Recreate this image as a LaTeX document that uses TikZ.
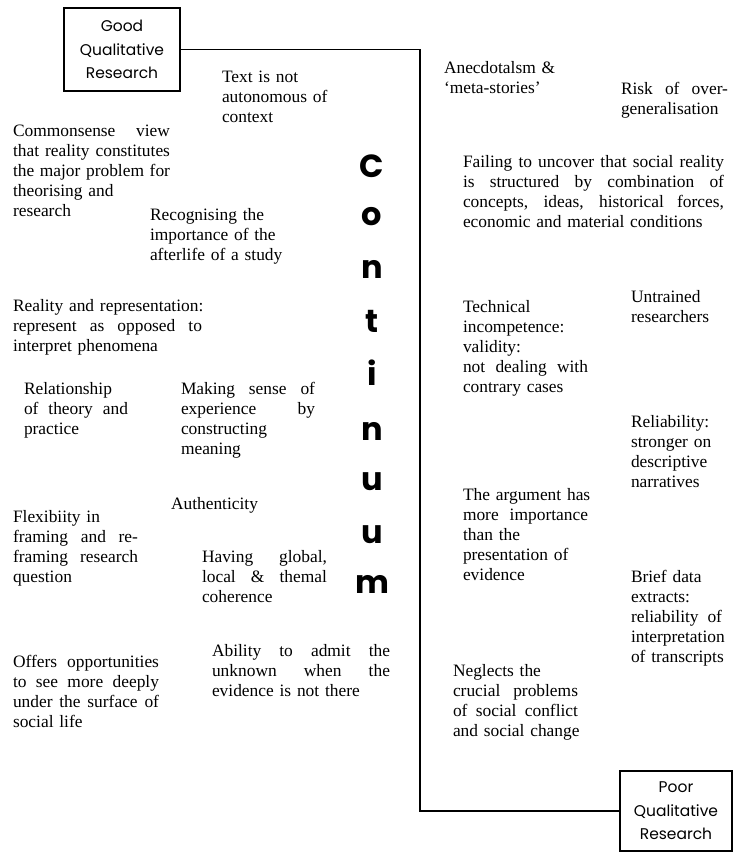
\documentclass[tikz,border=0pt]{standalone}
\usepackage{fontspec}
\setmainfont{Liberation Serif}
\newfontfamily\comicf{Poppins}
\newcommand\J[2]{\leavevmode\hbox to #1pt{\spaceskip=0.25em plus 1fil\relax #2}}
\begin{document}
\begin{tikzpicture}[x=1pt,y=-1pt,
  txt/.style={anchor=base west, inner sep=0pt, outer sep=0pt, text width=300pt, align=left,
              font=\fontsize{17.4}{20.2}\selectfont},
  qbox/.style={draw, line width=1.2pt, align=center, inner sep=0pt,
               font=\comicf\fontsize{15.5}{23.5}\selectfont},
  conn/.style={line width=1.2pt},
  cletter/.style={anchor=base, inner sep=0pt, font=\comicf\bfseries\fontsize{32}{32}\selectfont}]
\useasboundingbox (0,0) rectangle (734,852);

% boxes
\node[qbox, minimum width=116pt, minimum height=83pt] (good) at (122,49.5) {Good\\Qualitative\\Research};
\node[qbox, minimum width=112pt, minimum height=80pt] (poor) at (676,811) {Poor\\Qualitative\\Research};

% connector
\coordinate (bend) at (420,0);
\draw[conn] (good.east) -- (good.east -| bend) -- (poor.west -| bend) -- (poor.west);

% Continuum
\node[cletter] (c1) at (372,177) {C};
\node[cletter] (c2) at (372,225) {o};
\node[cletter] (c3) at (372,278) {n};
\node[cletter] (c4) at (372,332) {t};
\node[cletter] (c5) at (372,385) {i};
\node[cletter] (c6) at (372,440) {n};
\node[cletter] (c7) at (372,490) {u};
\node[cletter] (c8) at (372,543) {u};
\node[cletter] (c9) at (372,593) {m};

% left column
\node[txt] (t1) at (222,82) {Text is not\\autonomous of\\context};
\node[txt] (t2) at (13,136) {\J{157}{Commonsense view}\\\J{157}{that reality constitutes}\\\J{157}{the major problem for}\\theorising and\\research};
\node[txt] (t3) at (150,220) {Recognising the\\importance of the\\afterlife of a study};
\node[txt] (t4) at (13,311) {Reality and representation:\\\J{189}{represent as opposed to}\\interpret phenomena};
\node[txt] (t5) at (24,394) {Relationship\\\J{104}{of theory and}\\practice};
\node[txt] (t6) at (181,394) {\J{134}{Making sense of}\\\J{134}{experience by}\\constructing\\meaning};
\node[txt] (t7) at (171,509) {Authenticity};
\node[txt] (t8) at (13,522) {Flexibiity in\\\J{125}{framing and re-}\\\J{125}{framing research}\\question};
\node[txt] (t9) at (202,562) {\J{125}{Having global,}\\\J{125}{local \& themal}\\coherence};
\node[txt] (t10) at (212,656) {\J{178}{Ability to admit the}\\\J{178}{unknown when the}\\evidence is not there};
\node[txt] (t11) at (13,667) {\J{146}{Offers opportunities}\\\J{146}{to see more deeply}\\\J{146}{under the surface of}\\social life};

% right column
\node[txt] (r1) at (444,73) {Anecdotalsm \&\\‘meta-stories’};
\node[txt] (r2) at (621,94) {\J{107}{Risk of over-}\\generalisation};
\node[txt] (r3) at (463,167) {\J{261}{Failing to uncover that social reality}\\\J{261}{is structured by combination of}\\\J{261}{concepts, ideas, historical forces,}\\economic and material conditions};
\node[txt] (r4) at (463,312) {Technical\\incompetence:\\validity:\\\J{125}{not dealing with}\\contrary cases};
\node[txt] (r5) at (631,302) {Untrained\\researchers};
\node[txt] (r6) at (631,427) {Reliability:\\stronger on\\descriptive\\narratives};
\node[txt] (r7) at (463,500) {The argument has\\\J{125}{more importance}\\than the\\presentation of\\evidence};
\node[txt] (r8) at (631,582) {Brief data\\extracts:\\\J{91}{reliability of}\\interpretation\\of transcripts};
\node[txt] (r9) at (453,676) {Neglects the\\\J{125}{crucial problems}\\\J{125}{of social conflict}\\and social change};
\end{tikzpicture}
\end{document}
